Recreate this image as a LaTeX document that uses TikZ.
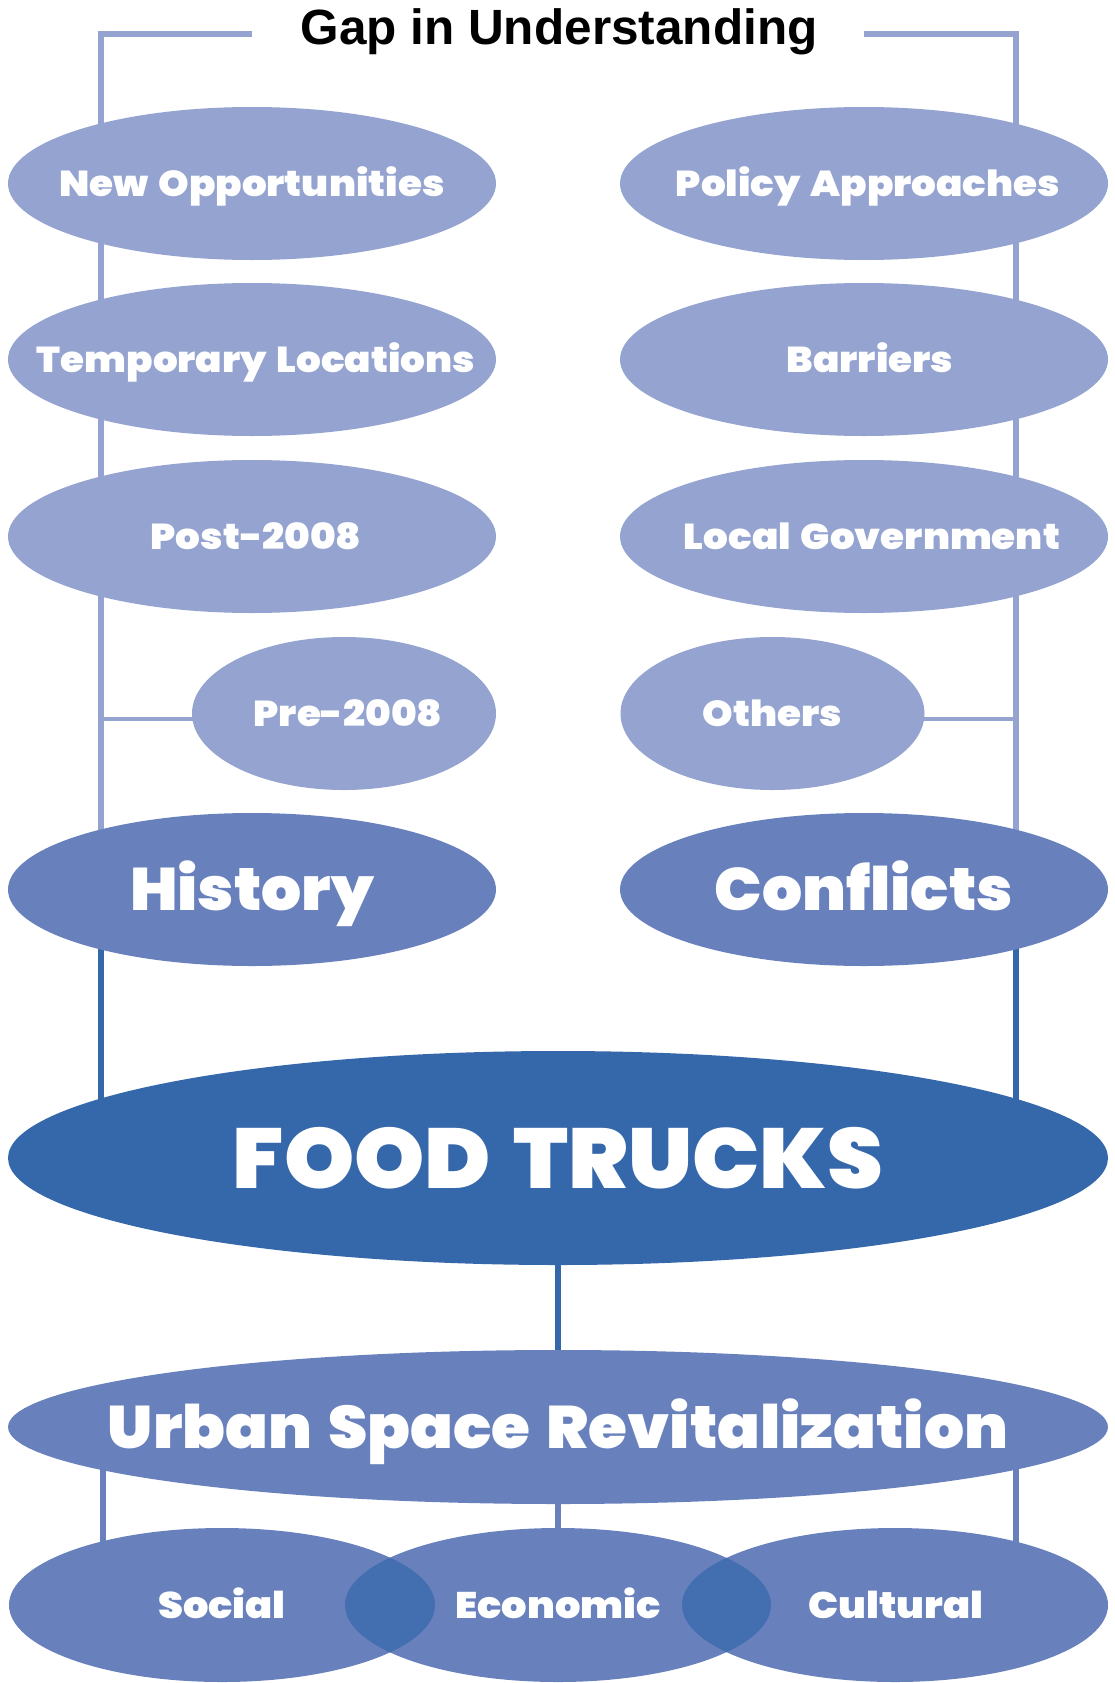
\documentclass[tikz,border=0pt]{standalone}
\usepackage{fontspec}
\setmainfont{Liberation Sans}
\newfontfamily\blkS{Poppins Black}[FakeStretch=1.08, WordSpace=1.5]
\newfontfamily\blkL{Poppins Black}[FakeStretch=1.05, WordSpace=1.5]
\usetikzlibrary{shapes.geometric,calc}
\definecolor{lightc}{HTML}{94A3CF}
\definecolor{medc}{HTML}{6881BC}
\definecolor{darkc}{HTML}{3567AB}
\definecolor{overc}{HTML}{436EB0}
\pgfdeclarelayer{bg}
\pgfsetlayers{bg,main}
\tikzset{
  ell/.style={ellipse, inner sep=0pt, draw=none},
  lightell/.style={ell, fill=lightc, minimum width=488pt, minimum height=153pt},
  smallell/.style={ell, fill=lightc, minimum width=304pt, minimum height=153pt},
  medell/.style={ell, fill=medc, minimum width=488pt, minimum height=153pt},
  botell/.style={ell, fill=medc, minimum width=426pt, minimum height=154pt},
  labS/.style={text=white, inner sep=0pt, text depth=0pt, text height=25pt, font=\blkS\fontsize{36}{36}\selectfont},
  labM/.style={text=white, inner sep=0pt, text depth=0pt, text height=42pt, font=\blkL\fontsize{60}{60}\selectfont},
  labL/.style={text=white, inner sep=0pt, text depth=0pt, text height=60pt, font=\blkL\fontsize{85}{85}\selectfont},
  labB/.style={text=white, inner sep=0pt, text depth=0pt, text height=26pt, font=\blkS\fontsize{37}{37}\selectfont},
  lightline/.style={draw=lightc, line width=6pt},
  thinline/.style={draw=lightc, line width=4pt},
  darkline/.style={draw=darkc, line width=6pt},
  medline/.style={draw=medc, line width=6pt},
}
\begin{document}
\begin{tikzpicture}[x=1pt,y=-1pt]
\useasboundingbox (0,0) rectangle (1115,1683);

% title
\node[anchor=base, inner sep=0pt, font=\bfseries\fontsize{49.5}{49.5}\selectfont] (gap) at (559,45) {Gap in Understanding};
\coordinate (TL) at (101,34);
\coordinate (TR) at (1016,34);

% left column
\node[lightell] (no) at (252,183.5) {};
\node[labS] at (no.center) {New Opportunities};
\node[lightell] (tl) at (252,359.5) {};
\node[labS, xshift=4pt] at (tl.center) {Temporary Locations};
\node[lightell] (post) at (252,536.5) {};
\node[labS, xshift=4pt] at (post.center) {Post-2008};
\node[smallell] (pre) at (344,713.5) {};
\node[labS, xshift=4pt] at (pre.center) {Pre-2008};
\node[medell] (hist) at (252,889.5) {};
\node[labM] at (hist.center) {History};

% right column
\node[lightell] (pol) at (864,183.5) {};
\node[labS, xshift=4pt] at (pol.center) {Policy Approaches};
\node[lightell] (bar) at (864,359.5) {};
\node[labS, xshift=6pt] at (bar.center) {Barriers};
\node[lightell] (lg) at (864,536.5) {};
\node[labS, xshift=8pt] at (lg.center) {Local Government};
\node[smallell] (oth) at (772.5,713.5) {};
\node[labS] at (oth.center) {Others};
\node[medell] (conf) at (864,889.5) {};
\node[labM] at (conf.center) {Conflicts};

% food trucks
\node[ell, fill=darkc, minimum width=1100pt, minimum height=214pt] (ft) at (558,1158) {};
\node[labL] at (ft.center) {FOOD TRUCKS};

% urban
\node[ell, fill=medc, minimum width=1100pt, minimum height=154pt] (urb) at (558,1427) {};
\node[labM] at (urb.center) {Urban Space Revitalization};

% bottom three
\node[botell] (soc) at (222,1605) {};
\node[botell] (eco) at (558,1605) {};
\node[botell] (cul) at (895,1605) {};
\begin{scope}
  \clip (soc.center) ellipse (213 and 77);
  \fill[overc] (eco.center) ellipse (213 and 77);
\end{scope}
\begin{scope}
  \clip (eco.center) ellipse (213 and 77);
  \fill[overc] (cul.center) ellipse (213 and 77);
\end{scope}
\node[labB] at (soc.center) {Social};
\node[labB] at (eco.center) {Economic};
\node[labB, xshift=1pt] at (cul.center) {Cultural};

% connectors
\begin{pgfonlayer}{bg}
  \draw[lightline] (no.center |- TL) -- (TL) -- (TL |- hist.center);
  \draw[lightline] (pol.center |- TR) -- (TR) -- (TR |- conf.center);
  \draw[thinline] ($(pre.center)+(0,5)$) -- ($(TL |- pre.center)+(0,5)$);
  \draw[thinline] ($(oth.center)+(0,5)$) -- ($(TR |- oth.center)+(0,5)$);
  \draw[darkline] (TL |- hist.center) -- (TL |- ft.center);
  \draw[darkline] (TR |- conf.center) -- (TR |- ft.center);
  \draw[darkline] (ft.center) -- (urb.center);
  \draw[medline] (urb.center) -- (eco.center);
  \draw[medline] ($(TL |- urb.center)+(2,0)$) -- ($(TL |- soc.center)+(2,0)$);
  \draw[medline] (TR |- urb.center) -- (TR |- cul.center);
\end{pgfonlayer}
\end{tikzpicture}
\end{document}
